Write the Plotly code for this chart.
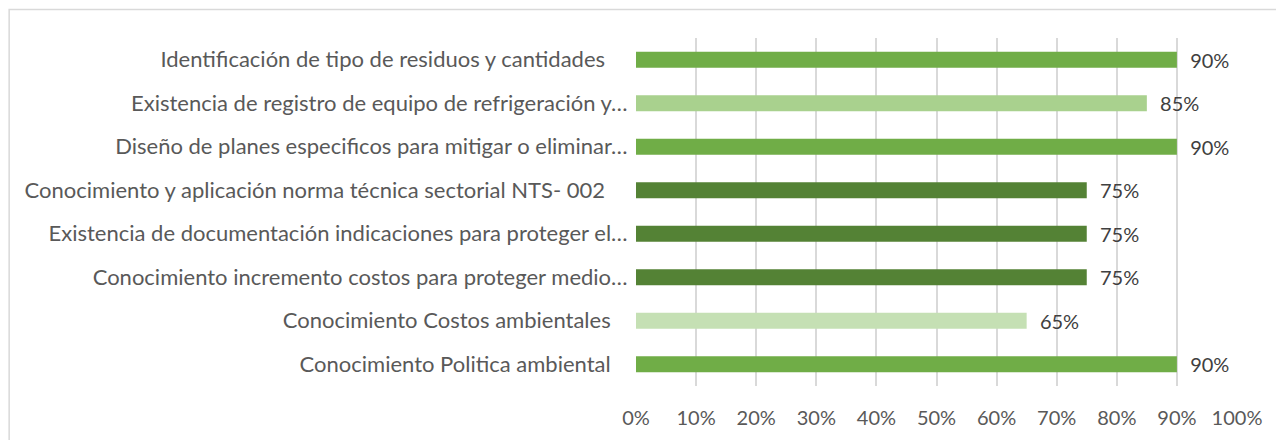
import plotly.graph_objects as go

# categories listed bottom to top, as plotly draws them
NB = "\u00a0"
categorias = [
    "Conocimiento Politica ambiental" + NB * 3,
    "Conocimiento Costos ambientales" + NB * 3,
    "Conocimiento incremento costos para proteger medio…",
    "Existencia de documentación indicaciones para proteger el…",
    "Conocimiento y aplicación norma técnica sectorial NTS- 002" + NB * 4,
    "Diseño de planes especificos para mitigar o eliminar…",
    "Existencia de registro de equipo de refrigeración y…",
    "Identificación de tipo de residuos y cantidades" + NB * 4,
]
valores = [0.90, 0.65, 0.75, 0.75, 0.75, 0.90, 0.85, 0.90]
colores = ["#70AD47", "#C5E0B4", "#548235", "#548235", "#548235",
           "#70AD47", "#A9D18E", "#70AD47"]
ticks_x = [0, 0.1, 0.2, 0.3, 0.4, 0.5, 0.6, 0.7, 0.8, 0.9, 1.0]

FONT = "Lato, Open Sans, sans-serif"

fig = go.Figure()
fig.add_trace(go.Bar(
    y=categorias,
    x=valores,
    orientation="h",
    marker=dict(color=colores, line=dict(width=0)),
    text=[f"{NB * 2}{v:.0%}" for v in valores],
    textposition="outside",
    constraintext="none",
    textfont=dict(family=FONT, size=20, color="#404040"),
    cliponaxis=False,
    hoverinfo="skip",
))

# chart border (runs past the right and bottom edges of the picture)
fig.add_shape(type="rect", xref="paper", yref="paper",
              x0=-1.043, x1=1.1, y0=-0.2, y1=1.082,
              line=dict(color="#D9D9D9", width=1.5), layer="below")

fig.update_layout(
    width=1276,
    height=432,
    margin=dict(l=628, r=47, t=30, b=54),
    paper_bgcolor="white",
    plot_bgcolor="white",
    bargap=0.63,
    showlegend=False,
    font=dict(family=FONT, size=20, color="#595959"),
    xaxis=dict(
        range=[0, 1.0],
        tickvals=ticks_x,
        tickformat=".0%",
        showgrid=True,
        gridcolor="#D9D9D9",
        gridwidth=1.5,
        zeroline=False,
        showline=False,
        ticks="outside",
        ticklen=14,
        tickcolor="rgba(0,0,0,0)",
        tickfont=dict(family=FONT, size=20, color="#595959"),
        automargin=False,
    ),
    yaxis=dict(
        showgrid=False,
        zeroline=False,
        showline=False,
        ticks="outside",
        ticklen=3,
        tickcolor="rgba(0,0,0,0)",
        tickfont=dict(family=FONT, size=22, color="#595959"),
        categoryorder="array",
        categoryarray=categorias,
        automargin=False,
    ),
)

fig.write_html("out.html")
